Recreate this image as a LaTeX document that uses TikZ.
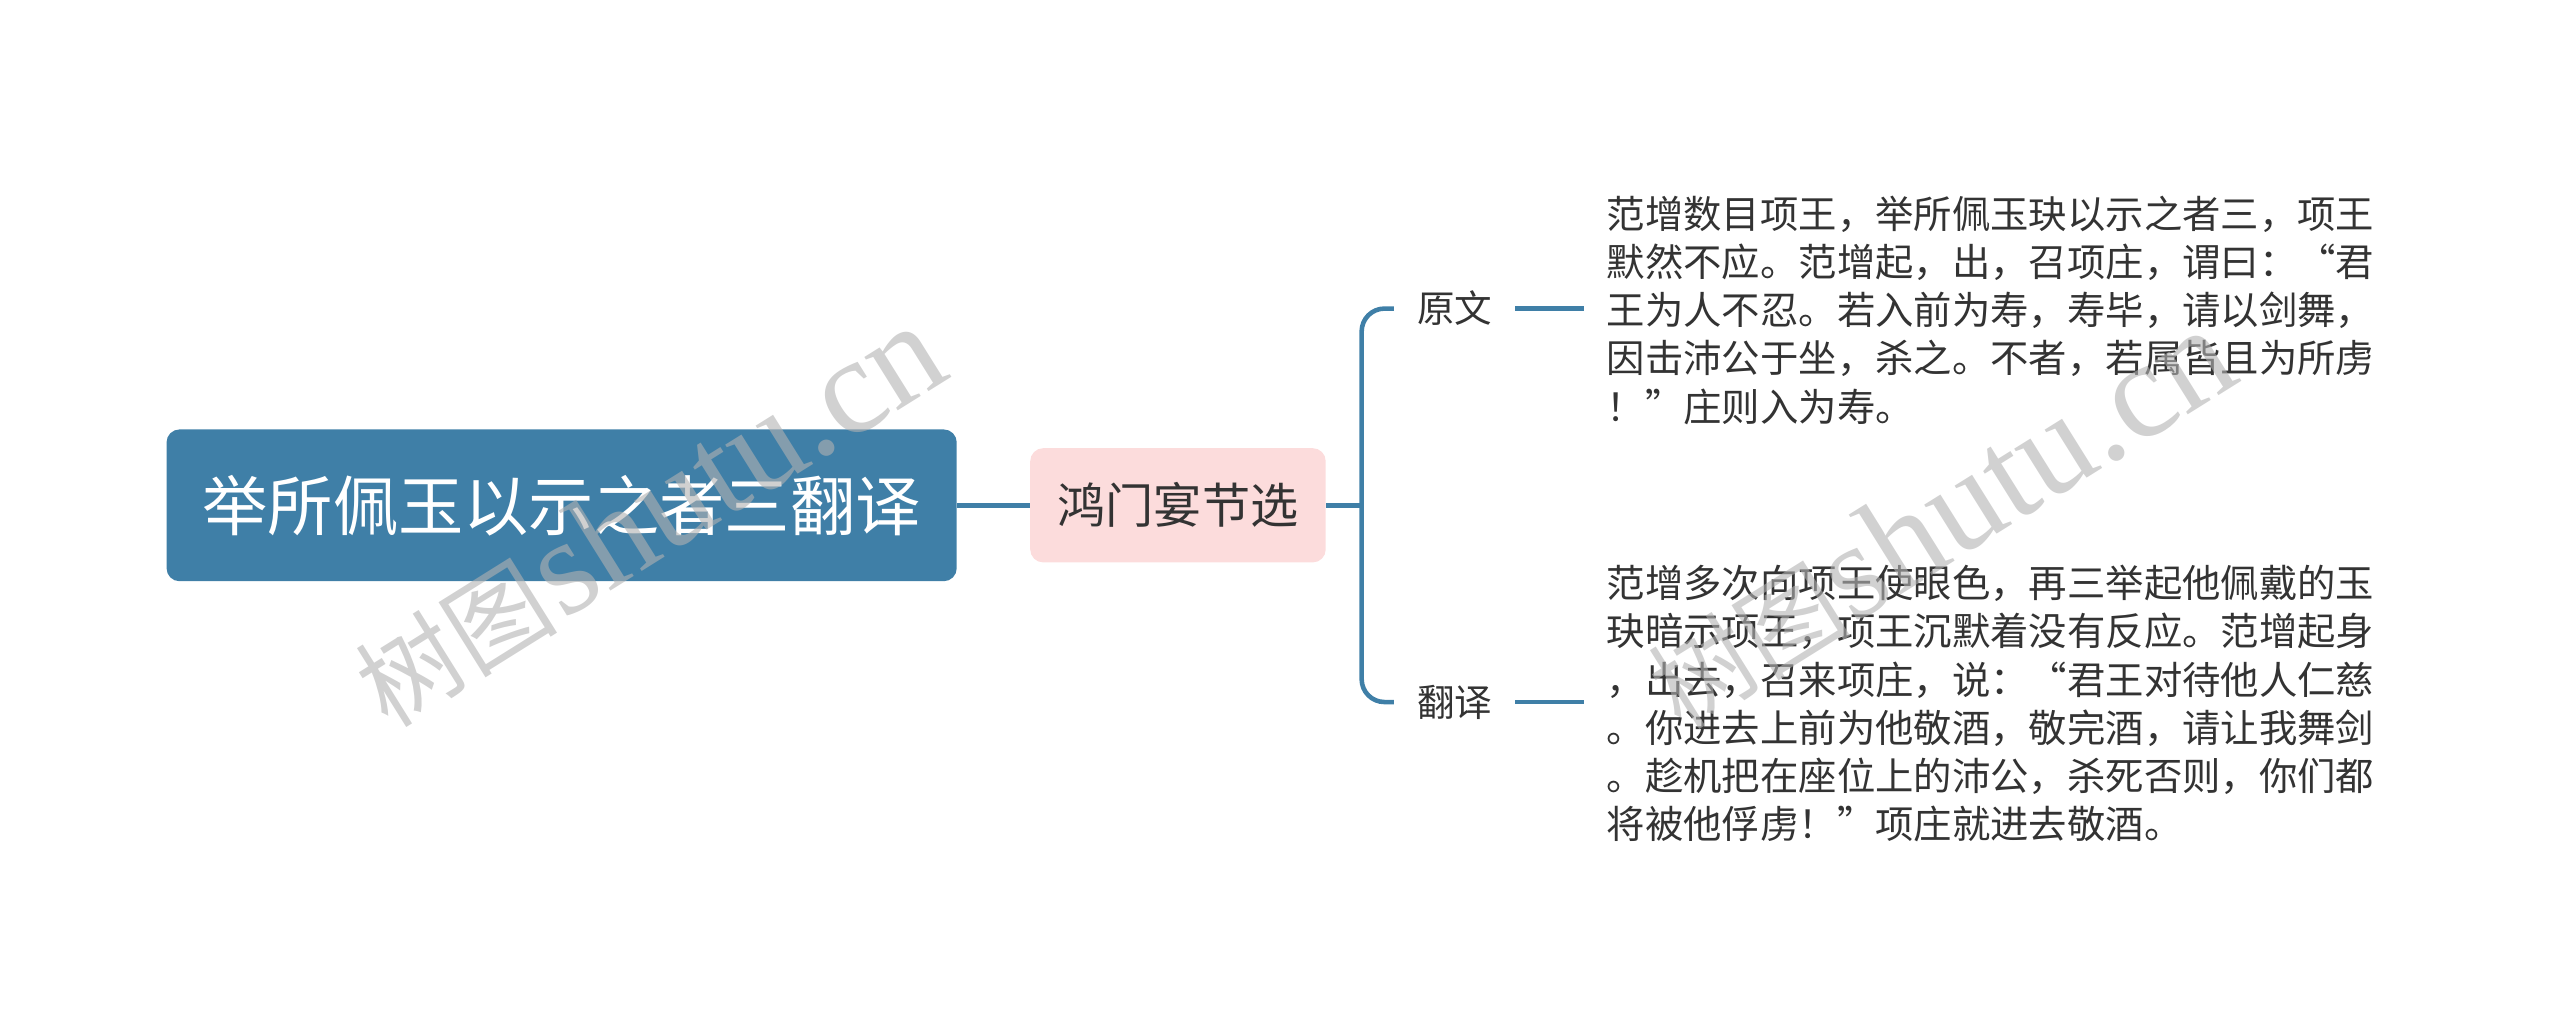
\documentclass[tikz,border=0pt]{standalone}
\usepackage{fontspec}
\setmainfont{Noto Sans CJK SC}
\newfontfamily\wmlatin{Liberation Serif}
\usetikzlibrary{positioning}
\definecolor{steel}{RGB}{63,127,167}
\definecolor{blush}{RGB}{252,220,220}
\definecolor{ink}{RGB}{51,51,51}

\begin{document}
\begin{tikzpicture}[x=1pt,y=-1pt,
  conn/.style={draw=steel,line width=2.8pt},
  rootbox/.style={fill=steel,rounded corners=8pt,text=white,minimum width=484pt,
    minimum height=93pt,font=\fontsize{40}{48}\selectfont},
  midbox/.style={fill=blush,rounded corners=8pt,text=ink,minimum width=181pt,
    minimum height=70pt,font=\fontsize{29.5}{36}\selectfont},
  leaf/.style={text=ink,inner xsep=14pt,inner ysep=2pt,font=\fontsize{23}{28}\selectfont},
  para/.style={text=ink,anchor=west,align=left,inner xsep=14pt,inner ysep=0pt,
    font=\fontsize{23.5}{29.5}\selectfont},
  wmark/.style={rotate=32,text=gray!60,opacity=0.6}]
  \useasboundingbox (0,0) rectangle (1568,634);

  \node[rootbox] (root) at (344,309.5) {举所佩玉以示之者三翻译};
  \node[midbox] (mid) at (721.5,309.5) {鸿门宴节选};
  \coordinate (fork) at (834,309.5);

  \node[leaf] (orig) at (891,189) {原文};
  \node[leaf] (trans) at (891,430) {翻译};

  \node[para] (origtxt) at (970,190) {范增数目项王，举所佩玉玦以示之者三，项王\\
    默然不应。范增起，出，召项庄，谓曰：“君\\
    王为人不忍。若入前为寿，寿毕，请以剑舞，\\
    因击沛公于坐，杀之。不者，若属皆且为所虏\\
    ！”庄则入为寿。};
  \node[para] (transtxt) at (970,431) {范增多次向项王使眼色，再三举起他佩戴的玉\\
    玦暗示项王，项王沉默着没有反应。范增起身\\
    ，出去，召来项庄，说：“君王对待他人仁慈\\
    。你进去上前为他敬酒，敬完酒，请让我舞剑\\
    。趁机把在座位上的沛公，杀死否则，你们都\\
    将被他俘虏！”项庄就进去敬酒。};

  \draw[conn] (root.east) -- (root.east -| mid.west);
  \draw[conn] (mid.east) -- (fork);
  \draw[conn,rounded corners=14pt] (orig.west) -- (fork |- orig.west)
    -- (fork |- trans.west) -- (trans.west);
  \draw[conn] (orig.east) -- (orig.east -| origtxt.west);
  \draw[conn] (trans.east) -- (trans.east -| transtxt.west);

  % watermarks
  \node[wmark] (wm1) at (397,316) {{\fontsize{62}{62}\selectfont 树图} {\wmlatin\fontsize{84}{84}\selectfont shutu.cn}};
  \node[wmark] (wm2) at (1188,318) {{\fontsize{62}{62}\selectfont 树图}{\wmlatin\fontsize{84}{84}\selectfont shutu.cn}};
\end{tikzpicture}
\end{document}
